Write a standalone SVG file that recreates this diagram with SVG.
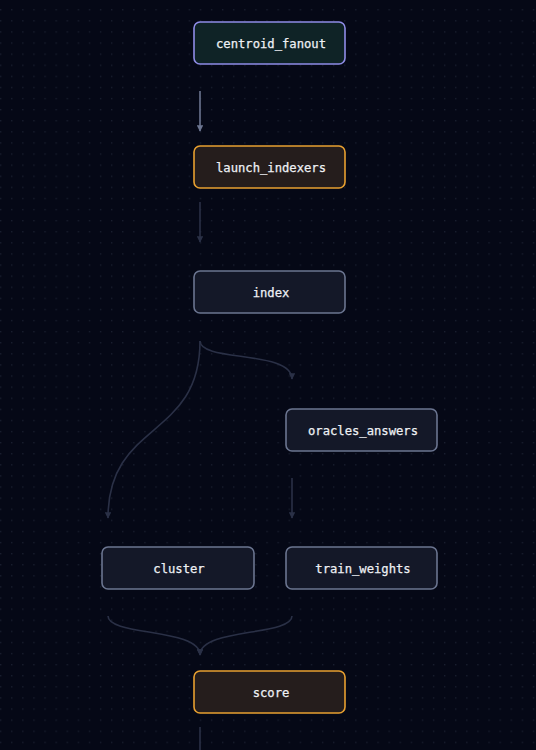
<svg xmlns="http://www.w3.org/2000/svg" width="536" height="750" viewBox="0 0 536 750">
  <defs>
    <pattern id="dots" x="0" y="-2" width="11.1" height="11.1" patternUnits="userSpaceOnUse">
      <rect x="0" y="0" width="1.3" height="1.3" fill="#1a2030"/>
    </pattern>
    <marker id="arrL" viewBox="0 0 10 10" refX="9" refY="5" markerWidth="4" markerHeight="4" orient="auto">
      <path d="M0,0 L10,5 L0,10 z" fill="#6b7590"/>
    </marker>
    <marker id="arrD" viewBox="0 0 10 10" refX="9" refY="5" markerWidth="4" markerHeight="4" orient="auto">
      <path d="M0,0 L10,5 L0,10 z" fill="#2a3046"/>
    </marker>
    <style>
      .node rect { stroke-width: 1.6; }
      .def rect { fill: #141828; stroke: #6b7590; }
      .warn rect { fill: #251d1c; stroke: #e8a030; }
      .root rect { fill: #0f2326; stroke: #8f8ce6; }
      .node text { font-family: "DejaVu Sans Mono", "Liberation Mono", monospace; font-size: 12.2px; fill: #eef0f4; stroke: #eef0f4; stroke-width: 0.25; text-anchor: middle; dominant-baseline: central; }
      .edge { fill: none; stroke-width: 1.6; }
      .lit { stroke: #6b7590; marker-end: url(#arrL); }
      .dim { stroke: #2a3046; marker-end: url(#arrD); }
    </style>
  </defs>
  <rect width="536" height="750" fill="#050816"/>
  <rect width="536" height="750" fill="url(#dots)"/>

  <g id="connectors">
    <path class="edge lit" d="M200,91 L200,131"/>
    <path class="edge dim" d="M200,202 L200,242"/>
    <path class="edge dim" d="M200,341 C200,362 292,350 292,379"/>
    <path class="edge dim" d="M200,341 C200,440 108,420 108,518"/>
    <path class="edge dim" d="M292,478 L292,518"/>
    <path class="edge dim" d="M108,616 C108,636 200,628 200,655"/>
    <path class="edge dim" d="M292,616 C292,636 200,628 200,655"/>
    <path class="edge dim" d="M200,727 L200,760"/>
  </g>

  <g id="centroid_fanout" class="node root">
    <rect x="194" y="22" width="151" height="42" rx="6"/>
    <text x="271" y="44">centroid_fanout</text>
  </g>
  <g id="launch_indexers" class="node warn">
    <rect x="194" y="146" width="151" height="42" rx="6"/>
    <text x="271" y="168">launch_indexers</text>
  </g>
  <g id="index" class="node def">
    <rect x="194" y="271" width="151" height="42" rx="6"/>
    <text x="271" y="293">index</text>
  </g>
  <g id="oracles_answers" class="node def">
    <rect x="286" y="409" width="151" height="42" rx="6"/>
    <text x="363" y="431">oracles_answers</text>
  </g>
  <g id="cluster" class="node def">
    <rect x="102" y="547" width="152" height="42" rx="6"/>
    <text x="179" y="569">cluster</text>
  </g>
  <g id="train_weights" class="node def">
    <rect x="286" y="547" width="151" height="42" rx="6"/>
    <text x="363" y="569">train_weights</text>
  </g>
  <g id="score" class="node warn">
    <rect x="194" y="671" width="151" height="42" rx="6"/>
    <text x="271" y="693">score</text>
  </g>
</svg>
